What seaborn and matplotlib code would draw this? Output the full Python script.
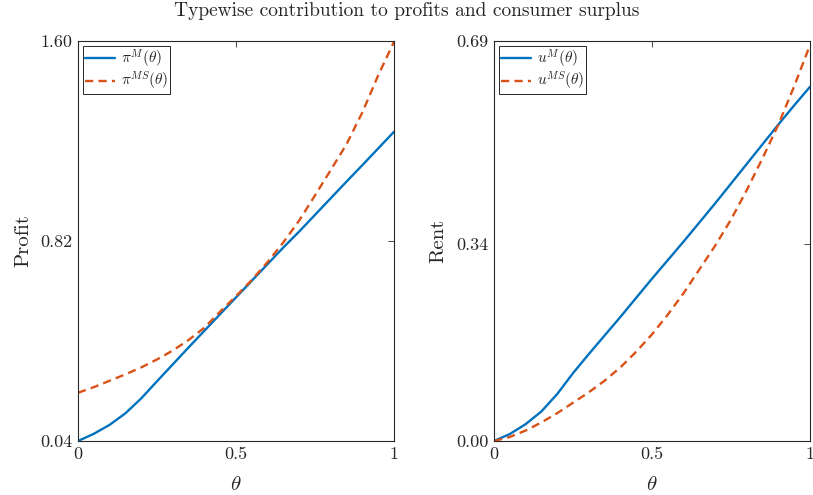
import numpy as np
import pandas as pd
import matplotlib
matplotlib.use("Agg")
import matplotlib.pyplot as plt
import seaborn as sns

theta = [0.00, 0.05, 0.10, 0.15, 0.20, 0.25, 0.30, 0.35, 0.40, 0.45, 0.50,
         0.55, 0.60, 0.65, 0.70, 0.75, 0.80, 0.85, 0.90, 0.95, 1.00]

profit_M = [0.040, 0.068, 0.103, 0.148, 0.206, 0.273, 0.339, 0.405, 0.470, 0.535, 0.600,
            0.665, 0.730, 0.795, 0.857, 0.922, 0.987, 1.052, 1.116, 1.181, 1.246]
profit_MS = [0.228, 0.250, 0.275, 0.300, 0.327, 0.358, 0.393, 0.434, 0.482, 0.545, 0.605,
             0.668, 0.738, 0.815, 0.900, 0.998, 1.097, 1.198, 1.322, 1.466, 1.597]

rent_M = [0.000, 0.012, 0.029, 0.051, 0.081, 0.117, 0.150, 0.182, 0.214, 0.247, 0.280,
          0.312, 0.344, 0.377, 0.410, 0.444, 0.478, 0.512, 0.546, 0.579, 0.611]
rent_MS = [0.000, 0.007, 0.018, 0.032, 0.048, 0.066, 0.084, 0.104, 0.127, 0.154, 0.184,
           0.218, 0.255, 0.296, 0.337, 0.382, 0.433, 0.488, 0.546, 0.612, 0.683]

x_ticks = [0, 0.5, 1]
x_ticklabels = ["0", "0.5", "1"]
left_yticks = [0.04, 0.82, 1.60]
left_yticklabels = ["0.04", "0.82", "1.60"]
right_yticks = [0.00, 0.34, 0.69]
right_yticklabels = ["0.00", "0.34", "0.69"]

title = "Typewise contribution to profits and consumer surplus"

sns.set_style("white")
plt.rcParams["font.family"] = ["cmr10", "DejaVu Serif"]
plt.rcParams["mathtext.fontset"] = "cm"
plt.rcParams["axes.unicode_minus"] = False

blue = "#0072BD"
orange = "#D95319"

fig = plt.figure(figsize=(8.13, 4.95), dpi=100)
axL = fig.add_axes([78 / 813, 54 / 495, 316 / 813, 400 / 495])
axR = fig.add_axes([494 / 813, 54 / 495, 316 / 813, 400 / 495])

def draw(ax, yM, yMS, labM, labMS, yticks, yticklabels, ylabel):
    sns.lineplot(x=theta, y=yM, ax=ax, color=blue, linewidth=1.7, label=labM)
    sns.lineplot(x=theta, y=yMS, ax=ax, color=orange, linewidth=1.7,
                 linestyle=(0, (3.5, 2.2)), label=labMS)
    ax.set_xlim(0, 1)
    ax.set_ylim(yticks[0], yticks[-1])
    ax.set_xticks(x_ticks)
    ax.set_xticklabels(x_ticklabels)
    ax.set_yticks(yticks)
    ax.set_yticklabels(yticklabels)
    ax.tick_params(direction="in", top=True, right=True, length=4, width=0.6,
                   labelsize=13, colors="#262626", pad=4)
    for s in ax.spines.values():
        s.set_color("#262626")
        s.set_linewidth(0.8)
    ax.set_xlabel(r"$\theta$", fontsize=15, labelpad=10)
    ax.set_ylabel(ylabel, fontsize=15, labelpad=6)
    leg = ax.legend(loc="upper left", fontsize=11, frameon=True, fancybox=False,
                    edgecolor="#262626", framealpha=1, borderpad=0.15,
                    handlelength=2.0, handletextpad=0.35, labelspacing=0.0,
                    borderaxespad=0.3)
    leg.get_frame().set_linewidth(0.7)

draw(axL, profit_M, profit_MS, r"$\pi^{M}(\theta)$", r"$\pi^{MS}(\theta)$",
     left_yticks, left_yticklabels, "Profit")
draw(axR, rent_M, rent_MS, r"$u^{M}(\theta)$", r"$u^{MS}(\theta)$",
     right_yticks, right_yticklabels, "Rent")

fig.suptitle(title, fontsize=14, y=0.995, va="top")

fig.savefig("out.png", dpi=100)
